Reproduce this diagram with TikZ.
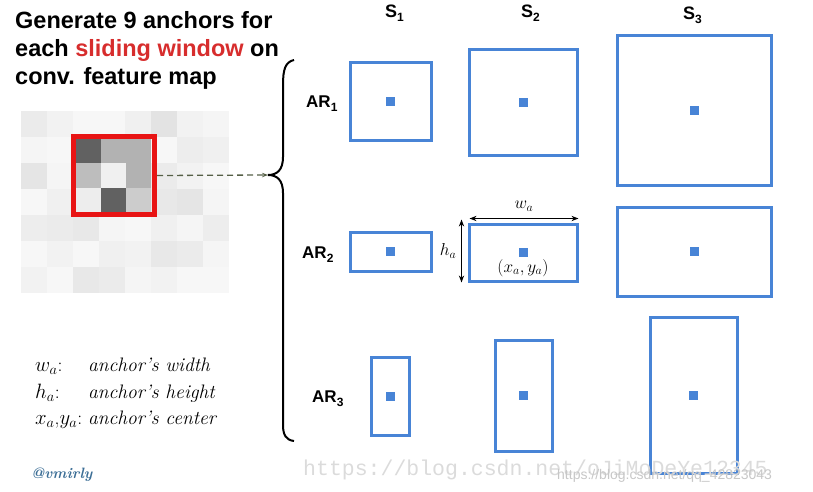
\documentclass[tikz,border=0pt]{standalone}
\usepackage{fontspec}
\setsansfont{Liberation Sans}
\newfontfamily\wmmono{Liberation Mono}
\usetikzlibrary{arrows.meta,calc,positioning}
\definecolor{anchorblue}{RGB}{72,132,214}
\definecolor{winred}{RGB}{232,20,20}
\definecolor{hlred}{RGB}{215,45,45}
\definecolor{tagblue}{RGB}{60,110,150}
\definecolor{dashgreen}{RGB}{85,95,70}
\tikzset{anchorbox/.style={draw=anchorblue,line width=3pt,inner sep=0pt},
 centerdot/.style={fill=anchorblue,minimum size=9pt,inner sep=0pt},
 title/.style={font=\sffamily\bfseries\fontsize{23.5}{28}\selectfont,anchor=base west,inner sep=0pt},
 collabel/.style={font=\sffamily\bfseries\fontsize{18}{18}\selectfont,anchor=base west,inner sep=0pt},
 rowlabel/.style={font=\sffamily\bfseries\fontsize{17}{17}\selectfont,anchor=base west,inner sep=0pt},
 dimarrow/.style={{Stealth[length=7pt]}-{Stealth[length=7pt]},line width=1.6pt},
 legend/.style={font=\fontsize{19.5}{19.5}\selectfont,anchor=base west,inner sep=0pt}}
\newcommand{\lowsub}[1]{\raisebox{-4pt}{\fontsize{12}{12}\selectfont#1}}

\begin{document}
\begin{tikzpicture}[x=1pt,y=-1pt]
\useasboundingbox (0,0) rectangle (813,492);
% title
\node[title] (t1) at (15,29) {Generate 9 anchors for};
\node[title] (t2) at (15,57) {each \textcolor{hlred}{sliding window} on};
\node[title] (t3) at (15,85) {conv. feature map};
% feature map
\foreach \row [count=\j from 0] in {{8,5,3,3,6,11,5,4},{4,3,9,6,4,3,7,6},{10,4,12,5,9,8,5,3},{3,6,4,8,6,9,10,4},{7,8,9,4,3,6,4,7},{3,5,3,6,5,9,8,4},{5,3,9,8,4,5,3,3}}
 \foreach \g [count=\i from 0] in \row
  \fill[black!\g] ({21+26*\i},{111+26*\j}) rectangle +(26,26);
\foreach \row [count=\j from 0] in {{62,30,30},{26,6,30},{7,62,20}}
 \foreach \g [count=\i from 0] in \row
  \fill[black!\g] ({76+25*\i},{137.5+25*\j}) rectangle +(25,25);
\node[draw=winred,line width=5pt,minimum width=81pt,minimum height=78pt,inner sep=0pt] (win) at (114,175.5) {};
% brace
\coordinate (tip) at (268,175);
\draw[line width=2pt] (294,60) .. controls (285,62) and (283,70) .. (283,85) -- (283,157)
 .. controls (283,170) and (277,175) .. (tip) .. controls (277,175) and (283,180) .. (283,193)
 -- (283,425) .. controls (283,435) and (286,440) .. (294,441);
\draw[dash pattern=on 6pt off 4pt,dashgreen,line width=1.3pt,-{Stealth[length=6pt]}] (win.east) -- (tip);
% scales and aspect ratios
\node[collabel] (s1) at (385,18) {S\lowsub{1}};
\node[collabel] (s2) at (521,18) {S\lowsub{2}};
\node[collabel] (s3) at (683,20) {S\lowsub{3}};
\node[rowlabel] (ar1) at (306,107) {AR\lowsub{1}};
\node[rowlabel] (ar2) at (302,258) {AR\lowsub{2}};
\node[rowlabel] (ar3) at (312,402) {AR\lowsub{3}};
\node[anchorbox,minimum width=81pt,minimum height=77pt] (b11) at (390.5,101.5) {};
\node[anchorbox,minimum width=108pt,minimum height=105pt] (b12) at (523,102.5) {};
\node[anchorbox,minimum width=154pt,minimum height=149pt] (b13) at (694,110.5) {};
\node[anchorbox,minimum width=81pt,minimum height=39pt] (b21) at (390.5,251.5) {};
\node[anchorbox,minimum width=108pt,minimum height=57pt] (b22) at (523,252.5) {};
\node[anchorbox,minimum width=154pt,minimum height=89pt] (b23) at (694,251.5) {};
\node[anchorbox,minimum width=38pt,minimum height=78pt] (b31) at (390,396) {};
\node[anchorbox,minimum width=57pt,minimum height=111pt] (b32) at (523.5,395.5) {};
\node[anchorbox,minimum width=87pt,minimum height=156pt] (b33) at (693.5,395) {};
\foreach \b in {11,12,13,21,22,23,31,32,33}
 \node[centerdot] (d\b) at (b\b.center) {};
% sizes of one anchor
\draw[dimarrow] ($(b22.north west)+(2,-4)$) -- ($(b22.north east)+(0,-4)$)
 node[midway,above=3pt,font=\fontsize{18}{18}\selectfont] (wlab) {$w_a$};
\draw[dimarrow] ($(b22.north west)+(-6,-3)$) -- ($(b22.south west)+(-6,0)$)
 node[midway,left=1pt,font=\fontsize{18}{18}\selectfont] (hlab) {$h_a$};
\node[below=2pt of d22,font=\fontsize{17}{17}\selectfont,inner sep=0pt] (clab) {$(x_a, y_a)$};
% legend
\node[legend] (lw) at (35,371) {$w_a$:};
\node[legend] (lwt) at (88,371) {\itshape anchor’s width};
\node[legend] (lh) at (35,398) {$h_a$:};
\node[legend] (lht) at (88,398) {\itshape anchor’s height};
\node[legend] (lc) at (35,424) {$x_a$,$y_a$:};
\node[legend] (lct) at (88,424) {\itshape anchor’s center};
\node[anchor=base west,text=tagblue,font=\rmfamily\bfseries\itshape\fontsize{15}{15}\selectfont,inner sep=0pt] (tag) at (31,478) {@vmirly};
% watermarks
\node[anchor=base west,text=black!14,font=\wmmono\fontsize{21.5}{21.5}\selectfont,inner sep=0pt] (wm1) at (303,475) {https://blog.csdn.net/oJiMoDeYe12345};
\node[anchor=base west,text=black!22,font=\sffamily\fontsize{14}{14}\selectfont,inner sep=0pt] (wm2) at (557,479) {https://blog.csdn.net/qq\_42823043};
\end{tikzpicture}
\end{document}
